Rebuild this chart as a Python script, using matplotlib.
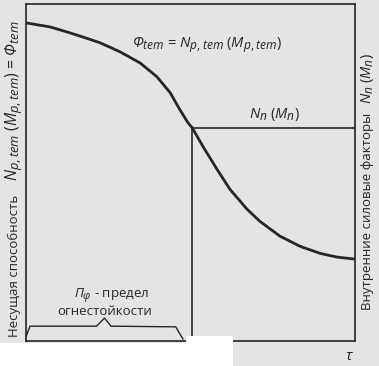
import matplotlib
matplotlib.use("Agg")
import matplotlib.pyplot as plt
from matplotlib.patches import Rectangle
import matplotlib._mathtext as mathtext_internals

plt.rcParams['font.family'] = ['Open Sans', 'DejaVu Sans']
plt.rcParams['mathtext.fontset'] = 'custom'
plt.rcParams['mathtext.rm'] = 'Open Sans'
plt.rcParams['mathtext.it'] = 'Open Sans:italic'
# the book uses larger subscripts than matplotlib's default 0.7
mathtext_internals.SHRINK_FACTOR = 0.82

# time axis (relative units) and bearing capacity Phi_tem
tau = [0, 0.73, 1.25, 1.73, 2.25, 2.86, 3.47, 3.98, 4.38, 4.68, 4.92, 5.05, 5.38,
       5.81, 6.20, 6.72, 7.11, 7.72, 8.33, 8.94, 9.45, 10.0]
phi_tem = [9.44, 9.32, 9.17, 9.02, 8.85, 8.58, 8.25, 7.84, 7.37, 6.86, 6.48, 6.33,
           5.77, 5.09, 4.50, 3.91, 3.55, 3.11, 2.81, 2.60, 2.49, 2.43]

# internal force level N_n and fire resistance limit
n_load = 6.33
tau_limit = 5.05

bg = '#e4e4e4'
ink = '#262626'

fig = plt.figure(figsize=(3.79, 3.66), dpi=100)
fig.patch.set_facecolor(bg)
W, H = 379, 366
ax = fig.add_axes([26 / W, (H - 341) / H, 329 / W, 337 / H])
ax.set_facecolor(bg)
ax.set_xlim(0, 10)
ax.set_ylim(0, 10)
ax.set_xticks([])
ax.set_yticks([])
for s in ax.spines.values():
    s.set_color(ink)
    s.set_linewidth(1.2)

# bearing capacity curve
ax.plot(tau, phi_tem, color=ink, lw=2.0, solid_capstyle='round', solid_joinstyle='round')

# load level and fire resistance limit
ax.plot([tau_limit, 10], [n_load, n_load], color=ink, lw=1.2)
ax.plot([tau_limit, tau_limit], [0, n_load], color=ink, lw=1.2)

# brace under the fire resistance interval
b_end = tau_limit - 0.28
mid = b_end / 2
ax.plot([0, 0.12, mid - 0.24, mid, mid + 0.2, b_end - 0.22, b_end],
        [0.12, 0.44, 0.44, 0.68, 0.44, 0.42, 0.06], color=ink, lw=1.0)

ax.text(5.5, 8.78, r'$\mathit{Ф}_{tem}$ = $\mathit{N}_{p,tem}$ ($\mathit{M}_{p,tem}$)',
        ha='center', va='center', fontsize=10.5, color=ink)
ax.text(7.54, 6.72, r'$\mathit{N}_{n}$ ($\mathit{M}_{n}$)',
        ha='center', va='center', fontsize=10.5, color=ink)
ax.text(2.61, 1.33, r'$\mathit{П}_{φ}$ - предел', ha='center', va='center',
        fontsize=9.5, color=ink)
ax.text(2.40, 0.89, 'огнестойкости', ha='center', va='center',
        fontsize=9.5, color=ink)

# vertical axis titles: plain words and formula parts set separately
fig.text(14 / W, 1 - 266 / H, 'Несущая способность',
         rotation=90, ha='center', va='center', fontsize=9.5, color=ink)
fig.text(14 / W, 1 - 101 / H,
         r'$\mathit{N}_{p,tem}$ ($\mathit{M}_{p,tem}$) = $\mathit{Ф}_{tem}$',
         rotation=90, ha='center', va='center', fontsize=11.3, color=ink)
fig.text(368 / W, 1 - 211 / H, 'Внутренние силовые факторы',
         rotation=90, ha='center', va='center', fontsize=9.5, color=ink)
fig.text(368 / W, 1 - 79 / H, r'$\mathit{N}_{n}$ ($\mathit{M}_{n}$)',
         rotation=90, ha='center', va='center', fontsize=10.5, color=ink)
fig.text(349 / W, 1 - 357 / H, r'$\mathit{τ}$', ha='center', va='center',
         fontsize=11, color=ink)

# white scanned margin at the bottom left
fig.patches.append(Rectangle((0, 0), 233 / W, (H - 343) / H, transform=fig.transFigure,
                             facecolor='white', edgecolor='none', zorder=5))
fig.patches.append(Rectangle((186 / W, 0), 47 / W, (H - 336) / H, transform=fig.transFigure,
                             facecolor='white', edgecolor='none', zorder=5))

fig.savefig('out.png', dpi=100, facecolor=bg)
